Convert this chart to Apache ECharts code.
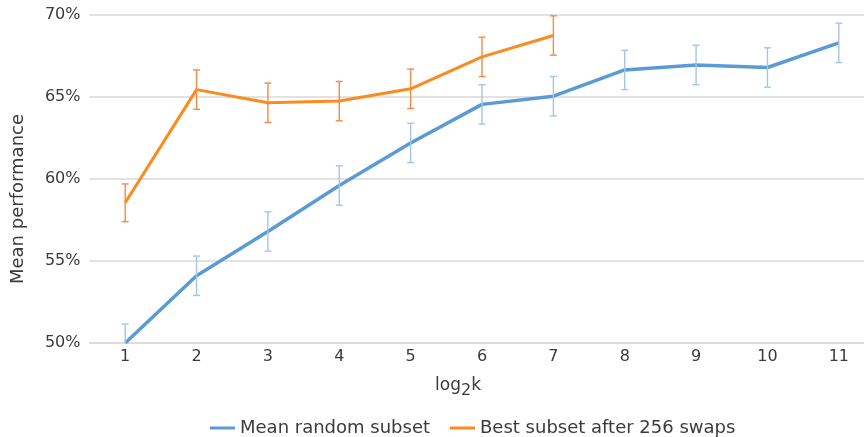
<!DOCTYPE html>
<html>
<head>
<meta charset="utf-8">
<script src="https://cdn.jsdelivr.net/npm/echarts@6/dist/echarts.min.js"></script>
<style>
html,body{margin:0;padding:0;background:#fff;}
#chart{width:864px;height:437px;}
</style>
</head>
<body>
<div id="chart"></div>
<script>
const categories = ['1','2','3','4','5','6','7','8','9','10','11'];
const randomMean = [50.0, 54.1, 56.8, 59.6, 62.2, 64.55, 65.05, 66.65, 66.95, 66.8, 68.3];
const randomErr  = [1.15, 1.2, 1.2, 1.2, 1.2, 1.2, 1.2, 1.2, 1.2, 1.2, 1.2];
const bestSubset = [58.55, 65.45, 64.65, 64.75, 65.5, 67.45, 68.75];
const bestErr    = [1.15, 1.2, 1.2, 1.2, 1.2, 1.2, 1.2];
const yTicks = [50, 55, 60, 65, 70];
const seriesNames = ['Mean random subset', 'Best subset after 256 swaps'];

const FONT = 'DejaVu Sans';
const TXT = '#3b3b3b';

function errData(vals, errs) {
  return vals.map((v, i) => [i, v - errs[i], v + errs[i]]);
}
function errRenderer(color) {
  return function (params, api) {
    const x = api.value(0);
    const lo = api.coord([x, api.value(1)]);
    const hi = api.coord([x, api.value(2)]);
    const cap = 3.5;
    const st = { stroke: color, lineWidth: 1.4 };
    return {
      type: 'group',
      children: [
        { type: 'line', shape: { x1: lo[0], y1: lo[1], x2: hi[0], y2: hi[1] }, style: st },
        { type: 'line', shape: { x1: lo[0] - cap, y1: lo[1], x2: lo[0] + cap, y2: lo[1] }, style: st },
        { type: 'line', shape: { x1: hi[0] - cap, y1: hi[1], x2: hi[0] + cap, y2: hi[1] }, style: st }
      ]
    };
  };
}

const chart = echarts.init(document.getElementById('chart'));
chart.setOption({
  animation: false,
  backgroundColor: '#ffffff',
  textStyle: { fontFamily: FONT, color: TXT },
  grid: { left: 89.5, top: 15, width: 785, height: 328, containLabel: false, outerBoundsMode: 'none' },
  xAxis: {
    type: 'category',
    data: categories,
    boundaryGap: true,
    axisLine: { lineStyle: { color: '#d9d9d9', width: 1.5 } },
    axisTick: { show: false },
    axisLabel: { color: TXT, fontSize: 16, fontFamily: FONT, margin: 6 },
    splitLine: { show: false }
  },
  yAxis: {
    type: 'value',
    min: yTicks[0],
    max: yTicks[yTicks.length - 1],
    interval: yTicks[1] - yTicks[0],
    axisLine: { show: false },
    axisTick: { show: false },
    axisLabel: { color: TXT, fontSize: 16, fontFamily: FONT, margin: 9, formatter: '{value}%' },
    splitLine: { lineStyle: { color: '#d9d9d9', width: 1.5 } }
  },
  legend: {
    data: seriesNames,
    left: 205,
    top: 414,
    icon: 'rect',
    itemWidth: 25,
    itemHeight: 3,
    itemGap: 20,
    textStyle: { color: TXT, fontSize: 18, fontFamily: FONT }
  },
  graphic: [
    {
      type: 'text',
      x: 18, y: 199,
      rotation: Math.PI / 2,
      style: { text: 'Mean performance', fill: TXT, font: '18px "DejaVu Sans"', align: 'center', verticalAlign: 'middle' }
    },
    {
      type: 'text',
      x: 458, y: 388,
      style: {
        text: '{n|log}{s|2}{n|k}',
        align: 'center', verticalAlign: 'middle',
        rich: {
          n: { fontSize: 17, fontFamily: FONT, fill: TXT, lineHeight: 20, verticalAlign: 'top' },
          s: { fontSize: 16, fontFamily: FONT, fill: TXT, lineHeight: 21, verticalAlign: 'bottom' }
        }
      }
    }
  ],
  series: [
    {
      name: seriesNames[0],
      type: 'line',
      data: randomMean,
      symbol: 'none',
      lineStyle: { color: '#5B9BD5', width: 3.5 },
      itemStyle: { color: '#5B9BD5' },
      z: 2
    },
    {
      name: seriesNames[1],
      type: 'line',
      data: bestSubset,
      symbol: 'none',
      lineStyle: { color: '#FD8A1C', width: 3 },
      itemStyle: { color: '#FD8A1C' },
      z: 3
    },
    {
      type: 'custom',
      name: 'err1',
      data: errData(randomMean, randomErr),
      encode: { x: 0, y: [1, 2] },
      renderItem: errRenderer('#A3C6E8'),
      clip: true,
      z: 4
    },
    {
      type: 'custom',
      name: 'err2',
      data: errData(bestSubset, bestErr),
      encode: { x: 0, y: [1, 2] },
      renderItem: errRenderer('#F58A45'),
      clip: false,
      z: 5
    }
  ]
});
</script>
</body>
</html>
